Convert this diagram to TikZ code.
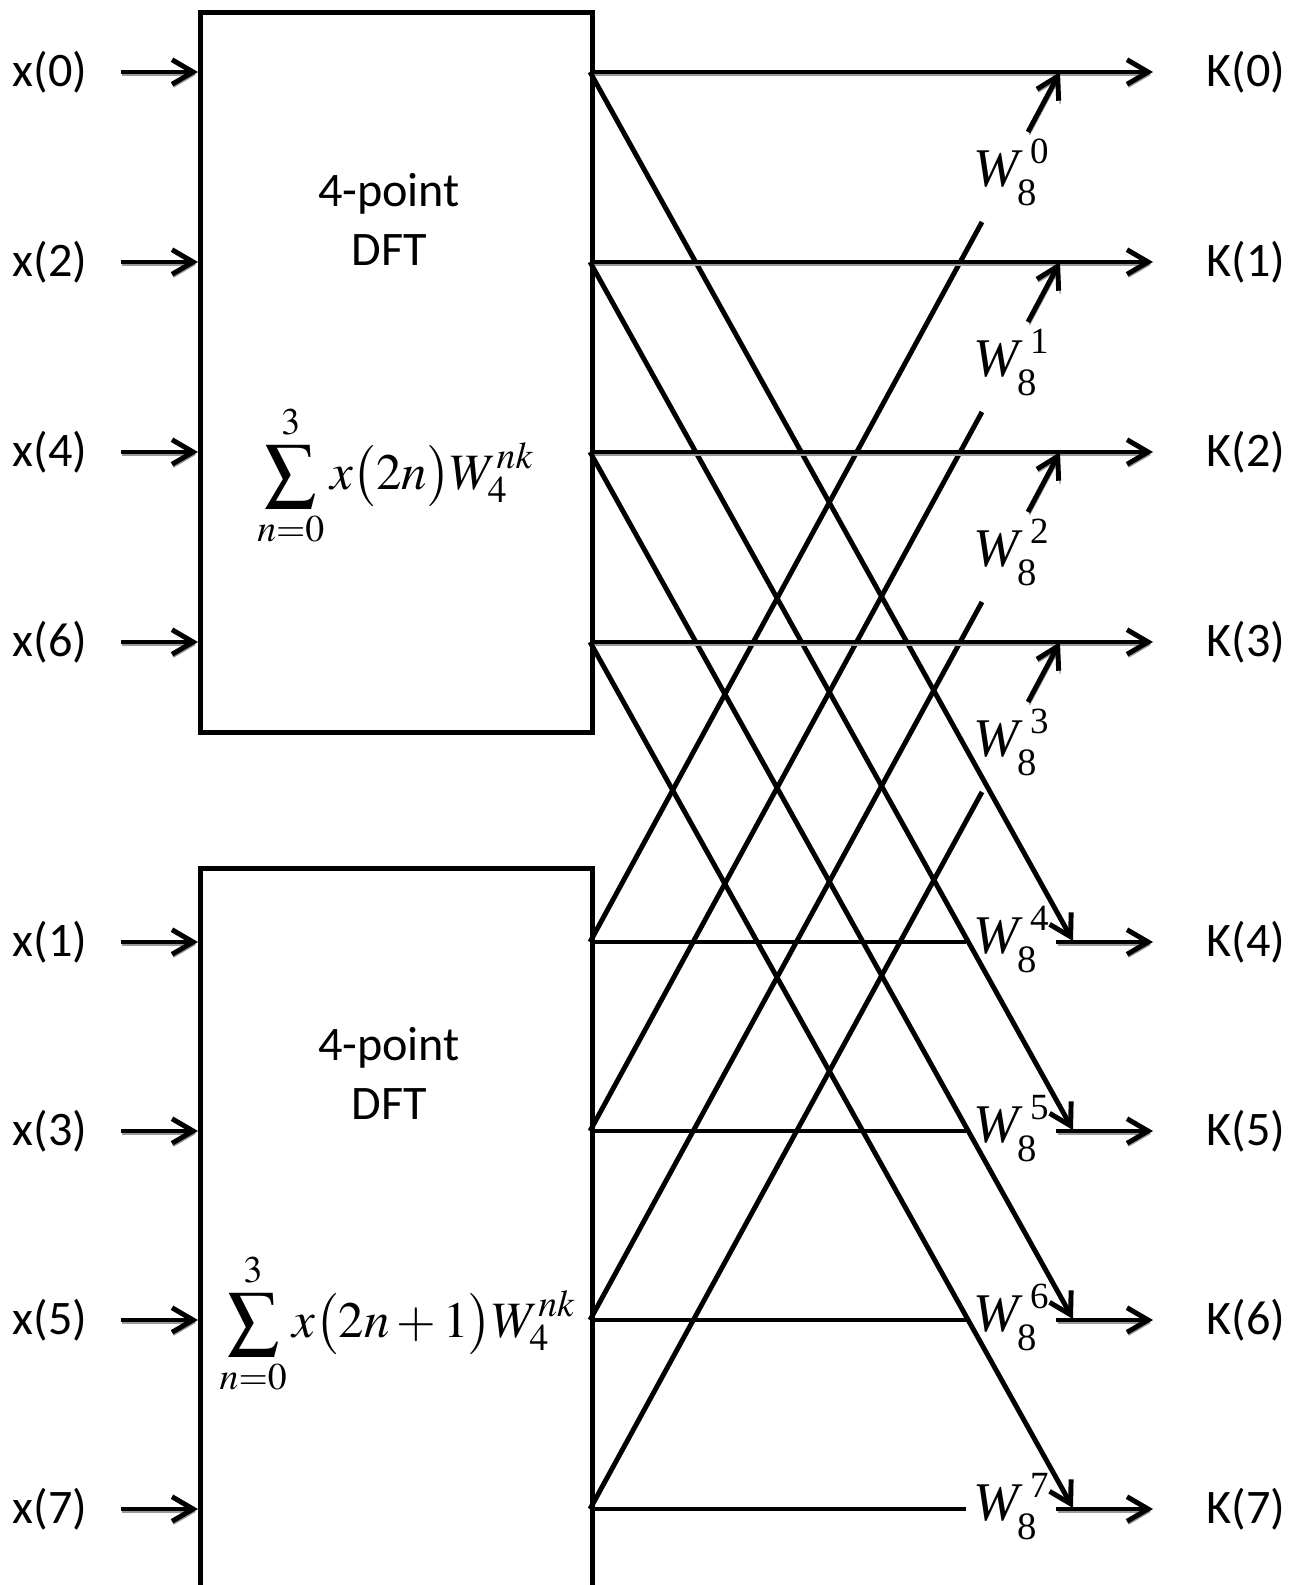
\documentclass[tikz,border=0pt]{standalone}
\usepackage{mathptmx}
\usepackage[no-math]{fontspec}
\setmainfont{Carlito}
\newfontfamily\tms{Liberation Serif}
\usetikzlibrary{arrows.meta,positioning}

% twiddle factor W_8^k, set the way the picture sets it
\newcommand\twf[1]{{\fontsize{15.5}{15}\selectfont\tms\itshape W}\kern-0.6pt%
  \raisebox{-5.6pt}{\fontsize{11}{11}\selectfont\tms 8}\kern-1.8pt%
  \raisebox{6.3pt}{\fontsize{10.5}{11}\selectfont\tms #1}}

\tikzset{
  wire/.style={line width=1.4pt},
  arr/.style={wire,-{Straight Barb[length=6pt,width=7pt]},
    preaction={draw=black!40,transform canvas={shift={(0.4pt,-0.8pt)}}}},
  lab/.style={font=\fontsize{13.7}{16.8}\selectfont,inner sep=0pt},
  tw/.style={font=\fontsize{14.5}{17}\selectfont,inner sep=2pt},
  dftbox/.style={draw,line width=1.3pt,minimum width=3.92cm,inner sep=0pt},
}

\begin{document}
\begin{tikzpicture}[x=0.01cm,y=-0.01cm]
    \useasboundingbox (0,0) rectangle (1302,1585);
    % the two 4-point blocks
    \node[dftbox,minimum height=7.2cm,anchor=north west] (even) at (198,10) {};
    \node[dftbox,minimum height=8cm,anchor=north west] (odd) at (198,866) {};
    \node[lab,align=center] (evenname) at (389,219) {4-point\\DFT};
    \node[lab,align=center] (oddname) at (389,1073) {4-point\\DFT};
    \node[tw] (evensum) at (396,476) {$\displaystyle\sum_{n=0}^{3}x\bigl(2n\bigr)W_4^{nk}$};
    \node[tw] (oddsum) at (398,1324) {$\displaystyle\sum_{n=0}^{3}x\bigl(2n+1\bigr)W_4^{nk}$};
    % inputs
    \foreach \i/\y in {0/72,2/262,4/452,6/642,1/942,3/1131,5/1320,7/1509}{
        \coordinate (src\i) at (121,\y);
        \node[lab,left=0.33cm of src\i] (x\i) {x(\i)};
        \draw[arr] (src\i) -- (src\i -| even.west);
    }
    % outputs
    \foreach \k/\y in {0/72,1/262,2/452,3/642,4/942,5/1131,6/1320,7/1509}{
        \coordinate (kend\k) at (1153,\y);
        \node[lab,right=0.53cm of kend\k] (K\k) {K(\k)};
    }
    % butterflies
    \foreach \k/\yt/\yb in {0/72/942,1/262/1131,2/452/1320,3/642/1509}{
        \pgfmathtruncatemacro\kk{\k+4}
        \coordinate (e\k) at (590,\yt);
        \coordinate (o\k) at (590,\yb);
        \node[tw,anchor=base west] (w\k) at (966,{\yt+114}) {\twf{\k}};
        \node[tw,anchor=base west] (v\k) at (966,{\yb+11}) {\twf{\kk}};
        \coordinate (gin\k) at (982,{\yt+150});
        \coordinate (gout\k) at (1028,{\yt+60});
        \coordinate (tip\k) at (1060,\yt);
        \coordinate (dtip\k) at (1073,{\yb-1});
        \draw[arr] (e\k) -- (kend\k);
        \draw[arr] (e\k) -- (dtip\k);
        \draw[wire] (o\k) -- (gin\k);
        \draw[arr] (gout\k) -- (tip\k);
        \draw[wire] (o\k) -- (v\k.west |- o\k);
        \draw[arr] (v\k.east |- kend\kk) -- (kend\kk);
    }
\end{tikzpicture}
\end{document}
